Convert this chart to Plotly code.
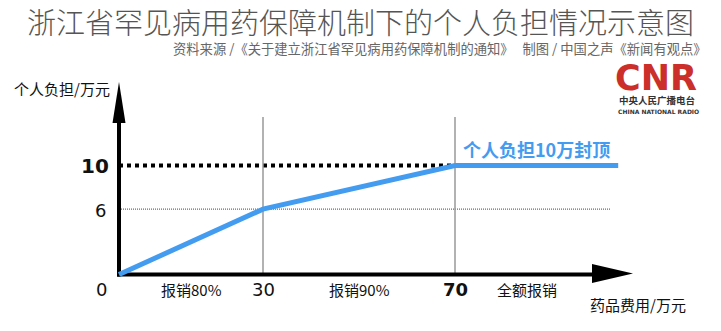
import plotly.graph_objects as go

# ---- data ----
cost = [0, 30, 70, 104]          # 药品费用 (万元)
burden = [0, 6, 10, 10]          # 个人负担 (万元)
breakpoints = [30, 70]
cap_value = 10
mid_value = 6
segment_labels = ["报销80%", "报销90%", "全额报销"]
segment_centers = [15.2, 50, 85]

W, H = 721, 331
X0PX, XSCALE = 119, 4.8
Y0PX, YSCALE = 274.5, 10.9
xr = [-X0PX / XSCALE, (W - X0PX) / XSCALE]
yr = [-(H - Y0PX) / YSCALE, Y0PX / YSCALE]

def px2x(p):
    return (p - X0PX) / XSCALE

def px2y(p):
    return (Y0PX - p) / YSCALE

CJK = "Noto Sans CJK SC"
NUM = "DejaVu Sans"
BLUE = "#439cf0"

fig = go.Figure()

# reference dotted lines
fig.add_trace(go.Scatter(x=[0, breakpoints[1]], y=[cap_value, cap_value], mode="lines",
                         line=dict(color="black", width=4, dash="4px,4px"), hoverinfo="skip"))
fig.add_trace(go.Scatter(x=[0, px2x(610)], y=[mid_value, mid_value], mode="lines",
                         line=dict(color="#444", width=1, dash="1px,1px"), hoverinfo="skip"))
# vertical gray lines
for b in breakpoints:
    fig.add_trace(go.Scatter(x=[b, b], y=[0, px2y(117)], mode="lines",
                             line=dict(color="#999", width=1.5), hoverinfo="skip"))

# axes lines
fig.add_trace(go.Scatter(x=[0, 0], y=[-0.2, px2y(120)], mode="lines",
                         line=dict(color="black", width=4), hoverinfo="skip"))
fig.add_trace(go.Scatter(x=[-0.35, px2x(595)], y=[0, 0], mode="lines",
                         line=dict(color="black", width=4), hoverinfo="skip"))

# main line
fig.add_trace(go.Scatter(x=cost, y=burden, mode="lines",
                         line=dict(color=BLUE, width=5), hoverinfo="skip"))

# arrowheads
fig.add_shape(type="path",
              path=f"M {px2x(112.5)} {px2y(123)} L {px2x(119)} {px2y(82)} L {px2x(125.5)} {px2y(123)} Z",
              fillcolor="black", line=dict(width=0))
fig.add_shape(type="path",
              path=f"M {px2x(592)} {px2y(264)} L {px2x(633)} {px2y(273.5)} L {px2x(592)} {px2y(283)} Z",
              fillcolor="black", line=dict(width=0))

ann = []
def A(text, x, y, size, color="#111", family=CJK, xanchor="center", xref="x", yref="y", weight=None):
    f = dict(size=size, color=color, family=family)
    if weight is not None:
        f["weight"] = weight
    ann.append(dict(text=text, x=x, y=y, xref=xref, yref=yref, showarrow=False,
                    font=f, xanchor=xanchor, yanchor="middle"))

# tick-like labels
A("0", px2x(101), px2y(289), 18, family=NUM)
A(str(mid_value), px2x(100), mid_value - 0.1, 18, family=NUM)
A(f"<b>{cap_value}</b>", px2x(95), cap_value - 0.05, 20, family=NUM)
A(str(breakpoints[0]), breakpoints[0], px2y(289), 18, family=NUM)
A(f"<b>{breakpoints[1]}</b>", breakpoints[1], px2y(289), 18, family=NUM)
for t, c in zip(segment_labels, segment_centers):
    A(t, c, px2y(289), 15)
A("药品费用/万元", px2x(638), px2y(304), 15)
A("个人负担/万元", px2x(62), px2y(88), 15)
A("<b>个人负担10万封顶</b>", px2x(461), px2y(149), 18, color=BLUE, xanchor="left")

# title & source
A("浙江省罕见病用药保障机制下的个人负担情况示意图", 360 / W, 1 - 21 / H, 29, color="#555",
  xref="paper", yref="paper", weight=300)
A("资料来源 /《关于建立浙江省罕见病用药保障机制的通知》   制图 / 中国之声《新闻有观点》",
  709 / W, 1 - 48 / H, 13.3, color="#666", xanchor="right", xref="paper", yref="paper")

# CNR logo text
A("<b>CNR</b>", 656 / W, 1 - 78 / H, 35, color="#cc2f2a", family="DejaVu Sans", xref="paper", yref="paper")
A("<b>中央人民广播电台</b>", 657 / W, 1 - 100 / H, 9.5, color="#333", xref="paper", yref="paper")
A("<b>CHINA NATIONAL RADIO</b>", 658 / W, 1 - 111 / H, 6, color="#333", family="DejaVu Sans",
  xref="paper", yref="paper")

fig.update_layout(
    width=W, height=H, margin=dict(l=0, r=0, t=0, b=0),
    paper_bgcolor="white", plot_bgcolor="white", showlegend=False,
    xaxis=dict(range=xr, visible=False, fixedrange=True),
    yaxis=dict(range=yr, visible=False, fixedrange=True),
    annotations=ann,
)

fig.write_html("out.html")
